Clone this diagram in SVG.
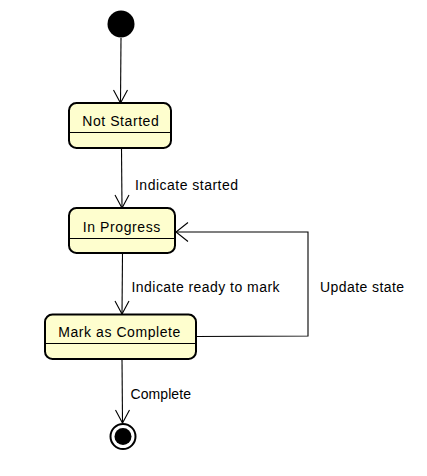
<svg xmlns="http://www.w3.org/2000/svg" width="427" height="476" viewBox="0 0 427 476">
<style>
.state{fill:#FEFECE;stroke:#000;stroke-width:2}
.div{stroke:#000;stroke-width:1.2}
.edge{fill:none;stroke:#000;stroke-width:1.1}
.head{fill:none;stroke:#000;stroke-width:1.1}
text{font-family:"Liberation Sans",Arial,sans-serif;font-size:14px;fill:#000}
.n{text-anchor:middle}
</style>
<rect width="427" height="476" fill="#fff"/>
<g id="connectors">
<path class="edge" d="M121,38 L120.5,103"/>
<path class="head" d="M113.5,90 L120.5,103 L127.5,90"/>
<path class="edge" d="M121.5,148 L122,208"/>
<path class="head" d="M115,195 L122,208 L129,195"/>
<text x="135" y="190" textLength="103" lengthAdjust="spacing">Indicate started</text>
<path class="edge" d="M122.5,253 L122,314"/>
<path class="head" d="M115,301 L122,314 L129,301"/>
<text x="131.5" y="291.5" textLength="148" lengthAdjust="spacing">Indicate ready to mark</text>
<path class="edge" d="M196,336.5 L308,336 L308,232 L176,232"/>
<path class="head" d="M188,222.5 L176,232 L188,241.5"/>
<text x="320" y="291.5" textLength="84" lengthAdjust="spacing">Update state</text>
<path class="edge" d="M122,359 L122.5,423"/>
<path class="head" d="M115.5,410 L122.5,423 L129.5,410"/>
<text x="130.5" y="399" textLength="60.5" lengthAdjust="spacing">Complete</text>
</g>
<g id="initial">
<circle cx="121" cy="24" r="13.5" fill="#000"/>
</g>
<g id="not-started">
<rect class="state" x="69" y="103" width="102" height="45" rx="7.5"/>
<line class="div" x1="69" y1="132.5" x2="171" y2="132.5"/>
<text class="n" x="120.5" y="125.7" textLength="76.5" lengthAdjust="spacing">Not Started</text>
</g>
<g id="in-progress">
<rect class="state" x="69" y="208" width="106" height="45" rx="7.5"/>
<line class="div" x1="69" y1="238.5" x2="175" y2="238.5"/>
<text class="n" x="121.5" y="231.7" textLength="77.5" lengthAdjust="spacing">In Progress</text>
</g>
<g id="mark-as-complete">
<rect class="state" x="45" y="314.5" width="151" height="44.5" rx="7.5"/>
<line class="div" x1="45" y1="343.5" x2="196" y2="343.5"/>
<text class="n" x="119.3" y="336.7" textLength="122" lengthAdjust="spacing">Mark as Complete</text>
</g>
<g id="final">
<circle cx="123" cy="436.5" r="12.5" fill="#fff" stroke="#000" stroke-width="2"/>
<circle cx="123" cy="436.5" r="8.5" fill="#000"/>
</g>
</svg>
